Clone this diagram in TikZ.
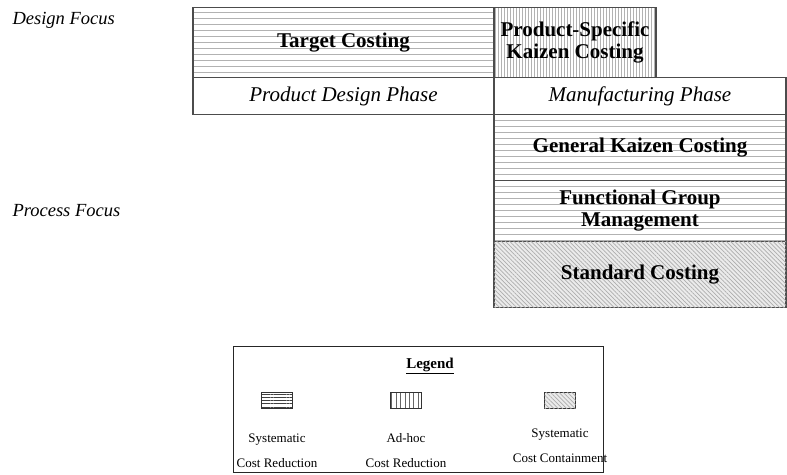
\documentclass[tikz,border=0pt]{standalone}
\usepackage{fontspec}
\setmainfont{Liberation Serif}
\usetikzlibrary{patterns.meta}
\begin{document}
\begin{tikzpicture}[x=1pt,y=-1pt,
  cell/.style={draw=black!70, line width=1.3pt, inner sep=0pt, outer sep=0pt,
    anchor=north west, align=center, font=\fontsize{21}{22}\selectfont\bfseries},
  phase/.style={cell, font=\fontsize{21}{22}\selectfont\itshape},
  hlines/.style={pattern={Lines[angle=0, distance=6pt, line width=0.8pt]}, pattern color=black!30},
  vlines/.style={pattern={Lines[angle=90, distance=3pt, line width=0.7pt]}, pattern color=black!30},
  speckled/.style={fill=black!8, postaction={pattern={Lines[angle=-45, distance=3pt, line width=0.7pt]}, pattern color=black!32}},
  side/.style={anchor=west, font=\fontsize{18.5}{20}\selectfont\itshape},
  icon/.style={draw=black!80, line width=0.8pt, minimum width=31pt, minimum height=16pt, inner sep=0pt},
  legtext/.style={align=center, anchor=north, font=\fontsize{13}{25}\selectfont},
]
\useasboundingbox (0,0) rectangle (787,474);

% focus labels
\node[side] (design) at (9,20) {Design Focus};
\node[side] (process) at (9,211) {Process Focus};

% design-phase cells
\node[cell, hlines, minimum width=301pt, minimum height=70pt] (target) at (193,7.5) {Target Costing};
\node[cell, vlines, minimum width=162pt, minimum height=70pt] (kaizen) at (494,7.5) {Product-Specific\\Kaizen Costing};
\node[phase, minimum width=301pt, minimum height=37pt] (pdp) at (193,77.5) {Product Design Phase};
\node[phase, minimum width=292pt, minimum height=37pt] (mp) at (494,77.5) {Manufacturing Phase};

% process-focus cells
\node[cell, hlines, minimum width=292pt, minimum height=66pt] (gkc) at (494,114.5) {General Kaizen Costing};
\node[cell, hlines, minimum width=292pt, minimum height=61pt] (fgm) at (494,180.5) {Functional Group\\Management};
\node[cell, speckled, minimum width=292pt, minimum height=66pt] (sc) at (494,241.5) {Standard Costing};

% legend
\node[draw=black!85, line width=0.8pt, minimum width=370pt, minimum height=126pt, anchor=north west, inner sep=0pt] (legend) at (233,346) {};
\node[font=\fontsize{15}{17}\selectfont\bfseries] (legtitle) at (430,366) {\underline{Legend}};
\node[icon, pattern={Lines[angle=0, distance=3.2pt, line width=0.6pt]}, pattern color=black!75] (i1) at (277,400) {};
\node[icon, pattern={Lines[angle=90, distance=4.4pt, line width=0.6pt]}, pattern color=black!60] (i2) at (406,400) {};
\node[icon, speckled] (i3) at (560,400) {};
\node[legtext, yshift=-22pt] (t1) at (i1.south) {Systematic\\Cost Reduction};
\node[legtext, yshift=-22pt] (t2) at (i2.south) {Ad-hoc\\Cost Reduction};
\node[legtext, yshift=-17pt] (t3) at (i3.south) {Systematic\\Cost Containment};
\end{tikzpicture}
\end{document}
